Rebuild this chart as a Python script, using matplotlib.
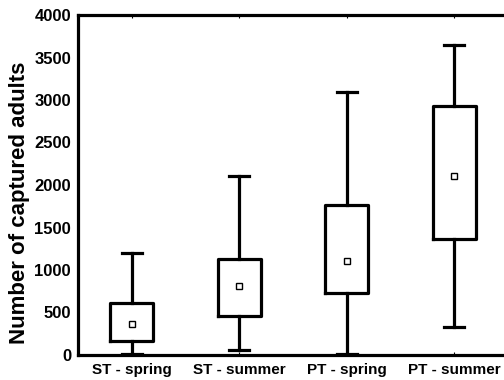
import matplotlib
matplotlib.use("Agg")
import matplotlib.pyplot as plt

categories = ["ST - spring", "ST - summer", "PT - spring", "PT - summer"]
whisker_low = [10, 60, 12, 325]
q1 = [165, 455, 735, 1370]
means = [370, 808, 1110, 2108]
q3 = [615, 1130, 1765, 2935]
whisker_high = [1200, 2110, 3100, 3650]

plt.rcParams['font.family'] = ['Liberation Sans', 'DejaVu Sans']
plt.rcParams['font.weight'] = 'bold'

fig = plt.figure(figsize=(5.04, 3.8), dpi=100)
ax = fig.add_axes([78/504, 25/380, 430/504, 340/380])

stats = []
for i, c in enumerate(categories):
    stats.append(dict(label=c, whislo=whisker_low[i], q1=q1[i], med=means[i],
                      q3=q3[i], whishi=whisker_high[i], mean=means[i], fliers=[]))

lw = 2.3
ax.bxp(stats, positions=range(len(categories)), widths=0.4, showmeans=True,
       showfliers=False, patch_artist=False,
       boxprops=dict(color='black', linewidth=lw),
       whiskerprops=dict(color='black', linewidth=lw),
       capprops=dict(color='black', linewidth=lw),
       medianprops=dict(linewidth=0, visible=False),
       meanprops=dict(marker='s', markerfacecolor='white', markeredgecolor='black',
                      markersize=5, markeredgewidth=1.0),
       capwidths=0.19)

ax.set_xlim(-0.5, 3.5)
ax.set_ylim(0, 4000)
ax.set_yticks(range(0, 4001, 500))
ax.set_xticks(range(len(categories)))
ax.set_xticklabels(categories)
for sp in ax.spines.values():
    sp.set_linewidth(lw)
ax.tick_params(axis='y', length=0, pad=5, labelsize=12)
ax.tick_params(axis='x', length=2, direction='in', top=True, pad=6, labelsize=11)
for t in ax.get_xticklabels() + ax.get_yticklabels():
    t.set_fontweight('bold')
ax.set_ylabel("Number of captured adults", fontsize=16, fontweight='bold')
ax.yaxis.set_label_coords(-0.111, 0.447)

fig.savefig("out.png", dpi=100)
